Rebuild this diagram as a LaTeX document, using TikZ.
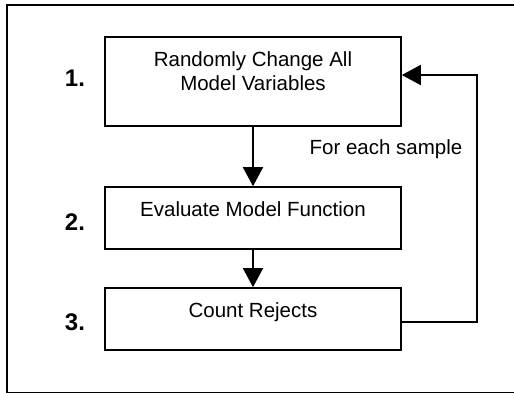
\documentclass[tikz,border=0pt]{standalone}
\usepackage{fontspec}
\setmainfont{Liberation Sans}
\usetikzlibrary{arrows.meta, positioning}

\begin{document}
\begin{tikzpicture}[x=1pt, y=-1pt,
        box/.style={draw, line width=1.6pt, minimum width=296, inner sep=0},
        boxtext/.style={anchor=north, inner sep=0, align=center, font=\fontsize{20.5}{23.5}\selectfont},
        steplabel/.style={anchor=base, inner sep=0, font=\fontsize{24}{28}\selectfont\bfseries},
        arr/.style={line width=1.6pt, -{Triangle[length=19pt, width=20pt]}}]
        \useasboundingbox (0,0) rectangle (514,393);
        % frame, right side is cut off
        \draw[line width=2pt] (514,5) -- (7,5) -- (7,392.5) -- (514,392.5);

        \node[box, minimum height=89] (b1) at (253,81.5) {};
        \node[box, minimum height=62] (b2) at (253,218) {};
        \node[box, minimum height=62] (b3) at (253,319) {};

        \node[boxtext] (t1) at ([yshift=-15.5pt]b1.north) {Randomly Change All\\Model Variables};
        \node[boxtext] (t2) at ([yshift=-15.5pt]b2.north) {Evaluate Model Function};
        \node[boxtext] (t3) at ([yshift=-15.5pt]b3.north) {Count Rejects};

        \node[steplabel] (s1) at (75,87) {1.};
        \node[steplabel] (s2) at (75,230) {2.};
        \node[steplabel] (s3) at (75,330) {3.};

        \coordinate (loop) at (477,75);
        \node[anchor=base, inner sep=0, font=\fontsize{20.5}{23.5}\selectfont] (fe) at (386,155) {For each sample};

        \draw[arr] (b1) -- (b2);
        \draw[arr] (b2) -- (b3);
        \draw[arr] ([yshift=-3pt]b3.east) -| (loop) -- (b1.east |- loop);
    \end{tikzpicture}
\end{document}
